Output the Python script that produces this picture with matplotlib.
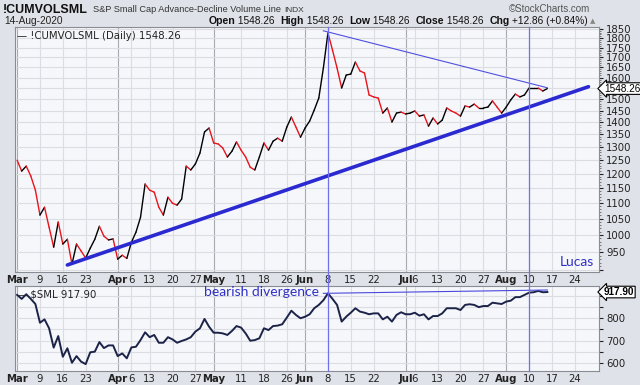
import numpy as np
import pandas as pd
import matplotlib
matplotlib.use('Agg')
import matplotlib.pyplot as plt
from matplotlib.lines import Line2D
from matplotlib.ticker import FixedLocator, NullFormatter
from matplotlib.transforms import blended_transform_factory

# trading days (market holidays removed)
holidays = ['2020-04-10', '2020-05-25', '2020-07-03']
days = pd.bdate_range('2020-03-02', '2020-08-31')
days = days[~days.isin(pd.to_datetime(holidays))]

# !CUMVOLSML daily closes, Mar 2 - Aug 14 2020
cumvol = [1250, 1210, 1228, 1192, 1143, 1061, 1086, 1023, 964, 1039,
          973, 987, 916, 973, 953, 933, 961, 987, 1026, 996,
          985, 988, 930, 941, 932, 978, 1008, 1054, 1164, 1143,
          1136, 1086, 1061, 1119, 1099, 1093, 1113, 1228, 1214, 1236,
          1277, 1360, 1376, 1316, 1312, 1296, 1262, 1284, 1320, 1288,
          1262, 1224, 1214, 1262, 1316, 1288, 1323, 1335, 1323, 1380,
          1422, 1380, 1339, 1376, 1405, 1452, 1505, 1646, 1828, 1737,
          1646, 1551, 1612, 1617, 1676, 1632, 1622, 1519, 1510, 1505,
          1439, 1461, 1401, 1439, 1443, 1435, 1439, 1448, 1426, 1431,
          1384, 1418, 1393, 1409, 1461, 1448, 1439, 1426, 1470, 1465,
          1478, 1461, 1461, 1465, 1492, 1465, 1439, 1465, 1497, 1523,
          1510, 1519, 1551, 1551, 1551, 1537, 1548.26]

# $SML daily closes
sml = [905, 887, 908, 887, 864, 780, 795, 755, 668, 720,
       627, 665, 600, 630, 605, 594, 647, 650, 693, 666,
       678, 678, 630, 642, 620, 669, 672, 702, 737, 715,
       725, 690, 690, 715, 705, 690, 698, 705, 715, 740,
       755, 797, 762, 735, 735, 732, 725, 743, 765, 758,
       732, 699, 702, 710, 755, 747, 765, 767, 773, 803,
       834, 815, 800, 807, 818, 845, 860, 881, 912, 887,
       860, 785, 807, 825, 845, 830, 825, 818, 822, 822,
       795, 807, 785, 815, 827, 818, 818, 825, 812, 818,
       795, 810, 810, 822, 845, 845, 845, 837, 860, 863,
       860, 850, 855, 855, 870, 867, 864, 875, 879, 895,
       895, 905, 915, 917, 923, 917, 917.90]

tick_dates = ['2020-03-02', '2020-03-09', '2020-03-16', '2020-03-23', '2020-04-01',
              '2020-04-06', '2020-04-13', '2020-04-20', '2020-04-27', '2020-05-01',
              '2020-05-11', '2020-05-18', '2020-05-26', '2020-06-01', '2020-06-08',
              '2020-06-15', '2020-06-22', '2020-07-01', '2020-07-06', '2020-07-13',
              '2020-07-20', '2020-07-27', '2020-08-03', '2020-08-10', '2020-08-17',
              '2020-08-24']
tick_labels = ['Mar', '9', '16', '23', 'Apr', '6', '13', '20', '27', 'May',
               '11', '18', '26', 'Jun', '8', '15', '22', 'Jul', '6', '13',
               '20', '27', 'Aug', '10', '17', '24']
month_names = ['Mar', 'Apr', 'May', 'Jun', 'Jul', 'Aug']

# hand drawn annotations (date, value)
up_trend = [('2020-03-17', 914), ('2020-08-27', 1557)]
down_trend = [('2020-06-05', 1840), ('2020-08-14', 1552)]
sml_trend = [('2020-06-05', 912), ('2020-08-14', 927)]
marker_dates = ['2020-06-08', '2020-08-10']

ticks = days.get_indexer(pd.to_datetime(tick_dates))
def xpos(d):
    return days.get_loc(pd.Timestamp(d))

bg = '#dfe2e8'
face = '#f6f7fb'
grid = '#dcdde3'
mgrid = '#a9aab0'
blue = '#2a2ad0'
W, H = 640, 385
hf = 'Liberation Sans'

fig = plt.figure(figsize=(6.4, 3.85), dpi=100, facecolor=bg)
ax1 = fig.add_axes([15 / W, 1 - 272 / H, 584 / W, 245 / H], facecolor=face)
ax2 = fig.add_axes([15 / W, 1 - 371 / H, 584 / W, 85 / H], facecolor=face)

for ax in (ax1, ax2):
    ax.set_xlim(-0.46, 127.3)
    ax.set_xticks(ticks)
    ax.set_xticklabels(tick_labels)
    for lab in ax.get_xticklabels():
        if lab.get_text() in month_names:
            lab.set_fontweight('bold')
    ax.tick_params(axis='x', length=0, labelsize=7.3, pad=2, colors='#222222')
    ax.yaxis.tick_right()
    ax.tick_params(axis='y', length=3, labelsize=7.3, pad=2, colors='#222222',
                   direction='out')
    for t, lab in zip(ticks, tick_labels):
        ax.axvline(t, color=mgrid if lab in month_names else grid, lw=0.8, zorder=0)
    for s in ax.spines.values():
        s.set_color('#8a8c94')
        s.set_linewidth(0.8)

# upper panel
x = np.arange(len(cumvol))
for i in range(len(cumvol) - 1):
    c = 'black' if cumvol[i + 1] >= cumvol[i] else '#e8141c'
    ax1.plot(x[i:i + 2], cumvol[i:i + 2], color=c, lw=1, solid_capstyle='round')
ax1.set_yscale('log')
ax1.set_ylim(895, 1861)
levels = list(range(900, 1851, 50))
ax1.yaxis.set_major_locator(FixedLocator(levels))
# 900 sits on the frame, 1550 is covered by the last-value tag
ax1.set_yticklabels(['' if v in (900, 1550) else str(v) for v in levels])
ax1.yaxis.set_minor_locator(FixedLocator(range(900, 1860, 10)))
ax1.yaxis.set_minor_formatter(NullFormatter())
ax1.tick_params(axis='y', which='minor', length=1.5, colors='#666666')
for v in levels:
    ax1.axhline(v, color=grid, lw=0.8, zorder=0)

ax1.plot([xpos(d) for d, v in up_trend], [v for d, v in up_trend], color=blue, lw=2.6,
         solid_capstyle='round')
ax1.plot([xpos(d) for d, v in down_trend], [v for d, v in down_trend], color='#5050e0',
         lw=0.8)

ax1.text(0.962, 0.04, 'Lucas', transform=ax1.transAxes, ha='center', va='center',
         color='#3030c8', fontsize=10, family='Lato')
ax1.text(0.004, 0.985, '\u2014 !CUMVOLSML (Daily) 1548.26', transform=ax1.transAxes,
         ha='left', va='top', fontsize=7.3, color='#222222')
ax1.annotate('1548.26', xy=(1, cumvol[-1]), xycoords=('axes fraction', 'data'),
             xytext=(3.5, 0), textcoords='offset points', ha='left', va='center',
             fontsize=7.2, color='black', family=hf,
             bbox=dict(boxstyle='larrow,pad=0.08', fc='white', ec='black', lw=0.8))

# lower panel
ax2.plot(x, sml, color='#1c2348', lw=1.4)
ax2.set_ylim(563, 945)
ax2.set_yticks(range(600, 901, 50))
ax2.set_yticklabels(['600', '', '700', '', '800', '', ''])
for v in range(600, 901, 50):
    ax2.axhline(v, color=grid, lw=0.8, zorder=0)
ax2.plot([xpos(d) for d, v in sml_trend], [v for d, v in sml_trend], color='#4848dc',
         lw=0.8)
ax2.text(0.3236, 0.93, 'bearish divergence', transform=ax2.transAxes, ha='left',
         va='center', color='#3030c8', fontsize=10, family='Lato')
ax2.text(0.004, 0.96, '\u2014 $SML 917.90', transform=ax2.transAxes,
         ha='left', va='top', fontsize=7.3, color='#222222')
ax2.annotate('917.90', xy=(1, sml[-1]), xycoords=('axes fraction', 'data'),
             xytext=(3.5, 0), textcoords='offset points', ha='left', va='center',
             fontsize=7.2, color='black', fontweight='bold', family=hf,
             bbox=dict(boxstyle='larrow,pad=0.08', fc='white', ec='black', lw=0.8))

# vertical markers through both panels
tr = blended_transform_factory(ax1.transData, fig.transFigure)
for d in marker_dates:
    fig.add_artist(Line2D([xpos(d), xpos(d)], [1 - 27 / H, 1 - 371 / H], transform=tr,
                          color='#7070ec', lw=0.9))

# header
fig.canvas.draw()
r = fig.canvas.get_renderer()
px = 3
for s, size, w, gap in [('!CUMVOLSML', 9, 'bold', 5),
                        ('S&P Small Cap Advance-Decline Volume Line', 6.6, 'normal', 3),
                        ('INDX', 6, 'normal', 0)]:
    t = fig.text(px / W, 1 - 10 / H, s, fontsize=size, fontweight=w, family=hf,
                 va='center', ha='left', color='#111111' if w == 'bold' else '#333333')
    px += t.get_window_extent(r).width + gap
fig.text(590 / W, 1 - 9 / H, '\u00a9StockCharts.com', fontsize=7, family=hf, va='center',
         ha='right', color='#555555')
fig.text(4 / W, 1 - 21 / H, '14-Aug-2020', fontsize=7.3, family=hf, va='center',
         ha='left', color='#222222')

pieces = [('Open', 'bold'), (' 1548.26  ', 'normal'), ('High', 'bold'),
          (' 1548.26  ', 'normal'), ('Low', 'bold'), (' 1548.26  ', 'normal'),
          ('Close', 'bold'), (' 1548.26  ', 'normal'), ('Chg', 'bold'),
          (' +12.86 (+0.84%)', 'normal')]
row = []
for s, w in pieces:
    row.append(fig.text(0, 1 - 21 / H, s, fontsize=7.6 if w == 'bold' else 7.3,
                        fontweight=w, family=hf, va='center', ha='left', color='#111111'))
total = sum(t.get_window_extent(r).width for t in row)
px = 588 - total
for t in row:
    t.set_x(px / W)
    px += t.get_window_extent(r).width
fig.text((px + 2) / W, 1 - 21 / H, '\u25b2', fontsize=5, va='center', ha='left',
         color='#888888')

fig.savefig('out.png', dpi=100, facecolor=bg)
